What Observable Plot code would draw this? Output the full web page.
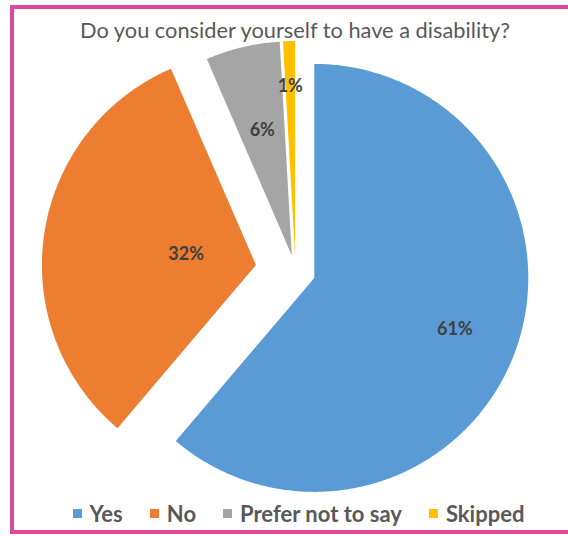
<!DOCTYPE html>
<html><head><meta charset="utf-8">
<script src="https://cdn.jsdelivr.net/npm/d3@7"></script>
<script src="https://cdn.jsdelivr.net/npm/@observablehq/plot@0.6"></script>
<style>
html,body{margin:0;padding:0;background:#fff;}
body{width:568px;height:536px;position:relative;overflow:hidden;font-family:Lato,"Open Sans",sans-serif;}
#frame{position:absolute;left:10px;top:5px;width:580px;height:529px;box-sizing:border-box;border:4px solid #DD4A9C;}
#title{position:absolute;left:0;width:590px;top:17.6px;height:24px;line-height:24px;font-size:21.8px;color:#595959;text-align:center;white-space:nowrap;}
#chart{position:absolute;left:0;top:40px;}
#legend{position:absolute;left:0;width:597px;top:501.5px;height:24px;line-height:24px;display:flex;justify-content:center;gap:27px;font-size:22px;font-weight:bold;color:#595959;white-space:nowrap;}
#legend .item{display:flex;align-items:center;}
#legend .sw{width:9px;height:9px;margin-right:8px;display:inline-block;}
</style></head>
<body>
<div id="frame"></div>
<div id="title">Do you consider yourself to have a disability?</div>
<div id="chart"></div>
<div id="legend"></div>
<script>
const categories = ["Yes", "No", "Prefer not to say", "Skipped"];
const values = [61.2, 32.3, 5.6, 0.9];
const colors = ["#5B9BD5", "#ED7D31", "#A5A5A5", "#FFC000"];
const explodePx = [20, 40, 16, 16];
const labelFrac = [0.7, 0.33, 0.6, 0.79];

const W = 568, H = 458, R = 214, CX = 295, CY = 230.5;
const total = d3.sum(values);
let acc = 0;
const slices = values.map((v, i) => {
  const a0 = acc / total * 2 * Math.PI;
  acc += v;
  const a1 = acc / total * 2 * Math.PI;
  const m = (a0 + a1) / 2;
  const d = explodePx[i] / R;
  return {key: categories[i], value: v, a0, a1, m, ox: d * Math.sin(m), oy: d * Math.cos(m), i};
});
const pts = [];
for (const s of slices) {
  pts.push({key: s.key, x: s.ox, y: s.oy});
  const n = Math.max(4, Math.ceil((s.a1 - s.a0) / (Math.PI / 360)));
  for (let k = 0; k <= n; k++) {
    const a = s.a0 + (s.a1 - s.a0) * k / n;
    pts.push({key: s.key, x: s.ox + Math.sin(a), y: s.oy + Math.cos(a)});
  }
}
const labels = slices.map(s => ({
  label: Math.round(s.value) + "%",
  x: s.ox + labelFrac[s.i] * Math.sin(s.m),
  y: s.oy + labelFrac[s.i] * Math.cos(s.m)
}));

const plot = Plot.plot({
  width: W, height: H,
  margin: 0,
  x: {domain: [-CX / R, (W - CX) / R], range: [0, W], axis: null},
  y: {domain: [-(H - CY) / R, CY / R], range: [H, 0], axis: null},
  color: {domain: categories, range: colors},
  style: {background: "transparent"},
  marks: [
    Plot.line(pts, {x: "x", y: "y", z: "key", fill: "key", stroke: "none", curve: "linear"}),
    Plot.text(labels, {x: "x", y: "y", text: "label", fill: "#404040", fontSize: 18, fontWeight: "bold", fontFamily: "Lato, sans-serif"})
  ]
});
document.getElementById("chart").appendChild(plot);

const leg = document.getElementById("legend");
categories.forEach((c, i) => {
  const it = document.createElement("span");
  it.className = "item";
  const sw = document.createElement("span");
  sw.className = "sw";
  sw.style.background = colors[i];
  it.appendChild(sw);
  it.appendChild(document.createTextNode(c));
  leg.appendChild(it);
});
</script>
</body></html>
